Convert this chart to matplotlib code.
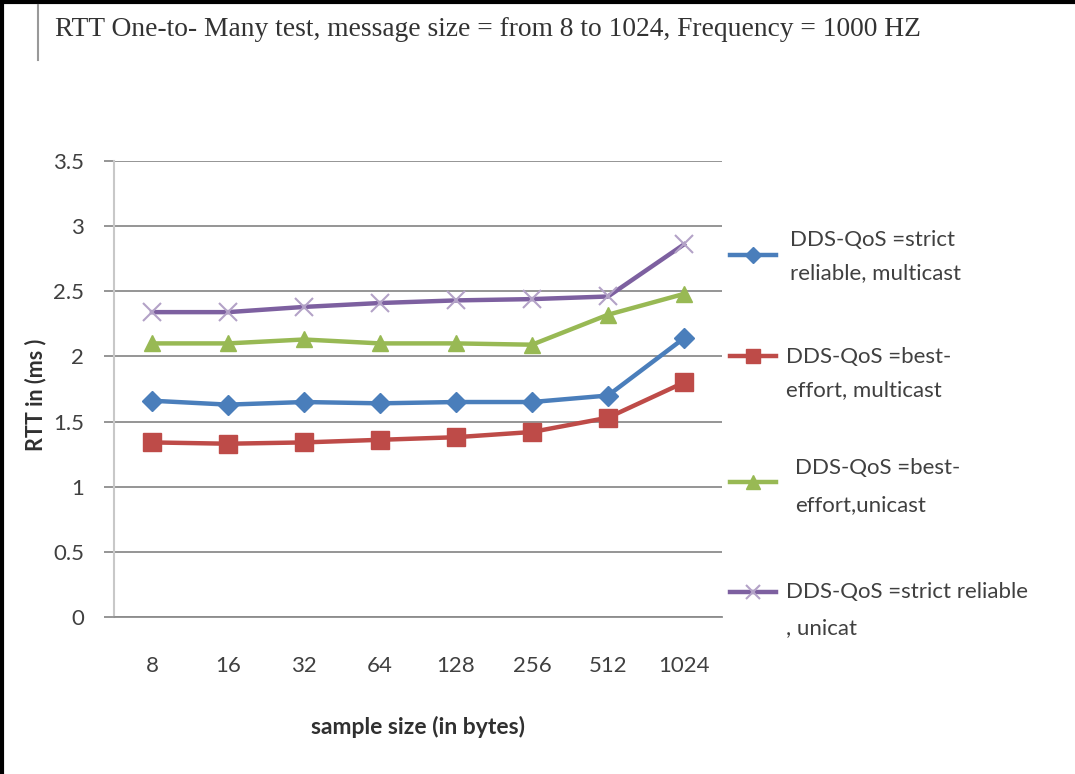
import matplotlib
matplotlib.use("Agg")
import matplotlib.pyplot as plt
from matplotlib.lines import Line2D

# ---- data ----
sizes = ["8", "16", "32", "64", "128", "256", "512", "1024"]
strict_multicast = [1.66, 1.63, 1.65, 1.64, 1.65, 1.65, 1.70, 2.14]
best_multicast = [1.34, 1.33, 1.34, 1.36, 1.38, 1.42, 1.53, 1.80]
best_unicast = [2.10, 2.10, 2.13, 2.10, 2.10, 2.09, 2.32, 2.48]
strict_unicast = [2.34, 2.34, 2.38, 2.41, 2.43, 2.44, 2.46, 2.86]
yticks = [0, 0.5, 1, 1.5, 2, 2.5, 3, 3.5]
ytick_labels = ["0", "0.5", "1", "1.5", "2", "2.5", "3", "3.5"]

title = "RTT One-to- Many test, message size = from 8 to 1024, Frequency = 1000 HZ"
xlabel = "sample size (in bytes)"
ylabel = "RTT in (ms )"
legend_lines = [
    ["DDS-QoS =strict", "reliable, multicast"],
    ["DDS-QoS =best-", "effort, multicast"],
    ["DDS-QoS =best-", "effort,unicast"],
    ["DDS-QoS =strict reliable", ", unicat"],
]

W, H = 1075, 774
fig = plt.figure(figsize=(W / 100, H / 100), dpi=100)
fig.patch.set_facecolor("white")

def fx(px):
    return px / W

def fy(py):
    return 1 - py / H

sans = ["Lato", "DejaVu Sans"]

# axes in pixel placement
left, right, top, bottom = 114, 722, 161, 617
ax = fig.add_axes([fx(left), fy(bottom), fx(right - left), (bottom - top) / H])

x = list(range(len(sizes)))
series = [
    (strict_multicast, "#4A7EBB", "D", 10, "#4A7EBB", 1),
    (best_multicast, "#BE4B48", "s", 13, "#BE4B48", 1),
    (best_unicast, "#98B954", "^", 12, "#98B954", 1),
    (strict_unicast, "#7D60A0", "x", 13, "#B3A2C7", 1.5),
]
for vals, col, mk, ms, mcol, mew in series:
    ax.plot(x, vals, color=col, lw=3.2, marker=mk, markersize=ms,
            markerfacecolor=mcol, markeredgecolor=mcol, markeredgewidth=mew,
            solid_joinstyle="round", zorder=3)

ax.set_xlim(-0.5, len(sizes) - 0.5)
ax.set_ylim(0, 3.5)
ax.set_yticks(yticks)
ax.set_yticklabels(ytick_labels)
ax.set_xticks(x)
ax.set_xticklabels(sizes)
ax.yaxis.grid(True, color="#8c8c8c", lw=1.3)
ax.set_axisbelow(True)
for s in ["top", "right"]:
    ax.spines[s].set_visible(False)
ax.spines["left"].set_color("#c8c8c8")
ax.spines["left"].set_linewidth(1.5)
ax.spines["bottom"].set_color("#8c8c8c")
ax.spines["bottom"].set_linewidth(1.3)
ax.tick_params(axis="y", direction="out", length=7.5, width=1.3, color="#8c8c8c",
               pad=14, labelsize=16, labelcolor="#404040")
ax.tick_params(axis="x", length=0, pad=28, labelsize=16, labelcolor="#404040")
for lab in ax.get_xticklabels() + ax.get_yticklabels():
    lab.set_family(sans)

ax.set_xlabel(xlabel, fontsize=16.5, fontweight="bold", family=sans, color="#303030")
ax.set_ylabel(ylabel, fontsize=15.5, fontweight="bold", family=sans, color="#303030")
ax.xaxis.set_label_coords(0.5, -(727 - bottom) / (bottom - top))
ax.xaxis.label.set_va("center")
ax.yaxis.set_label_coords(-(left - 36) / (right - left), (bottom - 395) / (bottom - top))
ax.yaxis.label.set_va("center")

# title
fig.text(fx(55), fy(29), title, fontsize=19.8, family=["Liberation Serif", "DejaVu Serif"],
         color="#333333", va="center", ha="left")

# legend (manual layout)
legend_pos = [(255, 240, 273, 790), (356, 357, 390, 786), (482, 468, 505, 795), (592, 592, 628, 786)]
for (vals, col, mk, ms, mcol, mew), (hy, t1, t2, tx), lines in zip(series, legend_pos, legend_lines):
    fig.add_artist(Line2D([fx(730), fx(776)], [fy(hy), fy(hy)], color=col, lw=3.2,
                          transform=fig.transFigure))
    fig.add_artist(Line2D([fx(753)], [fy(hy)], marker=mk, markersize=ms * 0.8,
                          markerfacecolor=mcol, markeredgecolor=mcol, markeredgewidth=mew,
                          transform=fig.transFigure, linestyle="none"))
    fig.text(fx(tx), fy(t1), lines[0], fontsize=16, family=sans, color="#404040",
             va="center", ha="left")
    fig.text(fx(tx), fy(t2), lines[1], fontsize=16, family=sans, color="#404040",
             va="center", ha="left")

# page decorations: border and margin marker
fig.add_artist(Line2D([0, 1], [fy(2), fy(2)], color="black", lw=3, transform=fig.transFigure))
fig.add_artist(Line2D([fx(2), fx(2)], [0, 1], color="black", lw=3, transform=fig.transFigure))
fig.add_artist(Line2D([fx(38), fx(38)], [fy(5), fy(60)], color="#999999", lw=1.5,
                      transform=fig.transFigure))

fig.savefig("out.png", dpi=100, facecolor="white")
